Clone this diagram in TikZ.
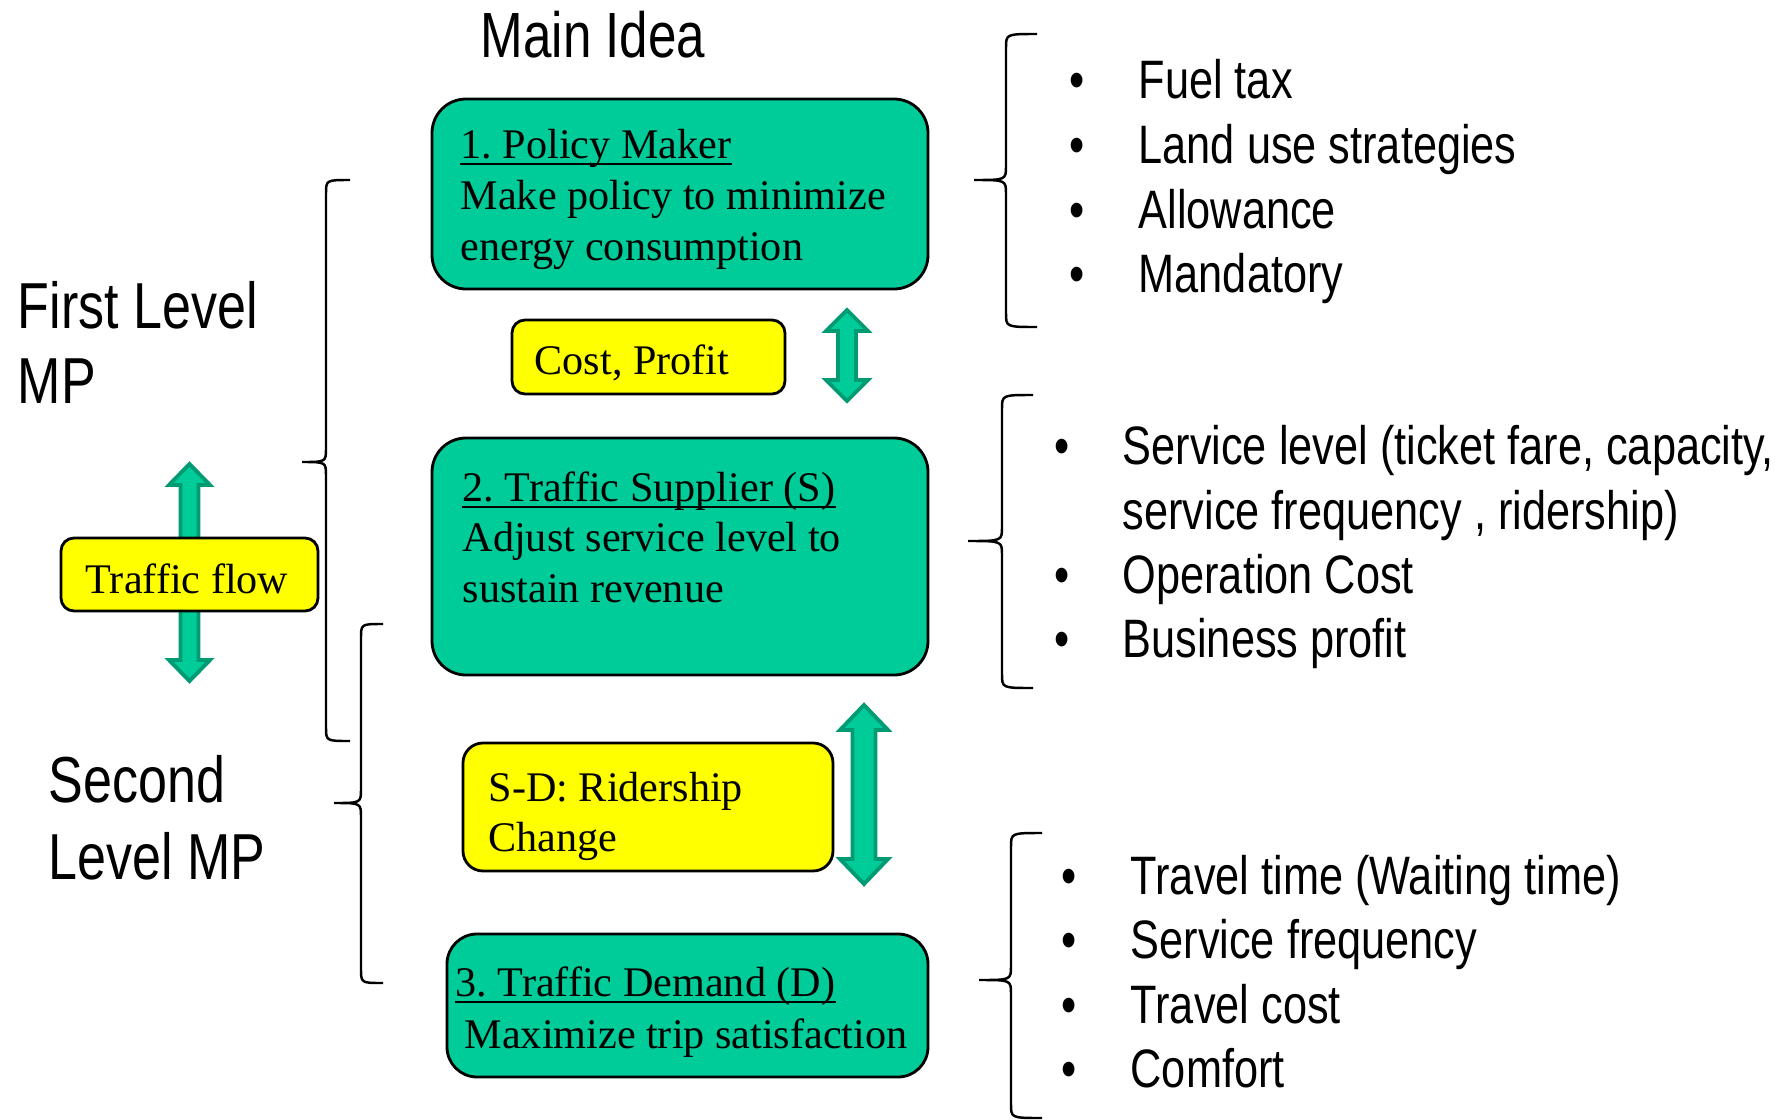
\documentclass[tikz,border=0pt]{standalone}
\usepackage{fontspec}
\setmainfont{Liberation Serif}
\newfontfamily\narrowsans[FakeStretch=0.8]{Liberation Sans}
\definecolor{boxgreen}{HTML}{00CC99}
\definecolor{arrowdark}{HTML}{009B72}
\definecolor{boxyellow}{HTML}{FFFF00}
\frenchspacing
\newcommand\dblarr[6]{% x, ytop, ybottom, half head, head length, half shaft
  \filldraw[blockarrow] (#1,#2) -- (#1+#4,#2+#5) -- (#1+#6,#2+#5) -- (#1+#6,#3-#5)
    -- (#1+#4,#3-#5) -- (#1,#3) -- (#1-#4,#3-#5) -- (#1-#6,#3-#5)
    -- (#1-#6,#2+#5) -- (#1-#4,#2+#5) -- cycle;}
\newcommand\mybrace[6]{% xv, xend, xtip, ytop, ymid, ybot  (brace opening right, tip left)
  \draw[bracest] (#2,#4) .. controls (#1,#4) and (#1,#4) .. (#1,#4+0.14) -- (#1,#5-0.14)
    .. controls (#1,#5) and (#1,#5) .. (#3,#5) .. controls (#1,#5) and (#1,#5) .. (#1,#5+0.14)
    -- (#1,#6-0.14) .. controls (#1,#6) and (#1,#6) .. (#2,#6);}
\begin{document}
\begin{tikzpicture}[x=1cm,y=-1cm,
  greenbox/.style={draw=black, line width=0.8pt, fill=boxgreen, rounded corners=0.34cm, inner sep=0pt, outer sep=0pt},
  yellowbox/.style={draw=black, line width=0.8pt, fill=boxyellow, rounded corners=0.13cm, inner sep=0pt, outer sep=0pt},
  txt/.style={anchor=base west, inner sep=0pt, font=\fontsize{12}{14}\selectfont},
  lst/.style={anchor=base west, inner sep=0pt, font=\narrowsans\fontsize{15.4}{18}\selectfont},
  bul/.style={anchor=base, inner sep=0pt, font=\narrowsans\fontsize{15.4}{18}\selectfont},
  hdr/.style={anchor=base west, inner sep=0pt, font=\narrowsans\fontsize{18.5}{21}\selectfont},
  ttl/.style={anchor=base west, inner sep=0pt, font=\narrowsans\fontsize{18.2}{21}\selectfont},
  uline/.style={draw=black, line width=0.55pt},
  blockarrow/.style={fill=boxgreen, draw=arrowdark, line width=1.1pt},
  bracest/.style={draw=black, line width=0.7pt}]
\useasboundingbox (0,0) rectangle (17.92,11.2);

% title
\node[ttl] (title) at (4.80,0.57) {Main Idea};

% left headers
\node[hdr] (first1) at (0.17,3.28) {First Level};
\node[hdr] (first2) at (0.17,4.03) {MP};
\node[hdr] (second1) at (0.48,8.02) {Second};
\node[hdr] (second2) at (0.48,8.79) {Level MP};

% main boxes
\node[greenbox, minimum width=4.96cm, minimum height=1.90cm] (pm) at (6.80,1.94) {};
\node[txt] (pm1) at (4.60,1.585) {1. Policy Maker};
\draw[uline] ([yshift=-1.6pt]pm1.base west) -- ([yshift=-1.6pt]pm1.base east);
\node[txt] (pm2) at (4.60,2.09) {Make policy to minimize};
\node[txt] (pm3) at (4.60,2.60) {energy consumption};

\node[greenbox, minimum width=4.96cm, minimum height=2.37cm] (ts) at (6.80,5.565) {};
\node[txt] (ts1) at (4.62,5.01) {2. Traffic Supplier (S)};
\draw[uline] ([yshift=-1.6pt]ts1.base west) -- ([yshift=-1.6pt]ts1.base east);
\node[txt] (ts2) at (4.62,5.51) {Adjust service level to};
\node[txt] (ts3) at (4.62,6.02) {sustain revenue};

\node[greenbox, minimum width=4.81cm, minimum height=1.43cm, rounded corners=0.30cm] (td) at (6.875,10.055) {};
\node[txt] (td1) at (4.55,9.96) {3. Traffic Demand (D)};
\draw[uline] ([yshift=-1.6pt]td1.base west) -- ([yshift=-1.6pt]td1.base east);
\node[txt] (td2) at (4.64,10.48) {Maximize trip satisfaction};

% double arrows
\dblarr{8.47}{3.10}{4.01}{0.21}{0.21}{0.09}
\dblarr{8.64}{7.05}{8.84}{0.24}{0.25}{0.115}
\dblarr{1.895}{4.64}{6.81}{0.205}{0.21}{0.09}

% yellow boxes
\node[yellowbox, minimum width=2.73cm, minimum height=0.74cm] (cp) at (6.485,3.57) {};
\node[txt] (cpt) at (5.34,3.745) {Cost, Profit};

\node[yellowbox, minimum width=3.70cm, minimum height=1.28cm, rounded corners=0.2cm] (sd) at (6.48,8.07) {};
\node[txt] (sd1) at (4.88,8.01) {S-D: Ridership};
\node[txt] (sd2) at (4.88,8.51) {Change};

\node[yellowbox, minimum width=2.57cm, minimum height=0.73cm] (tf) at (1.895,5.745) {};
\node[txt] (tft) at (0.85,5.93) {Traffic flow};

% braces
\mybrace{3.26}{3.50}{3.02}{1.80}{4.62}{7.41}
\mybrace{3.61}{3.83}{3.34}{6.24}{8.03}{9.83}
\mybrace{10.06}{10.37}{9.74}{0.34}{1.80}{3.27}
\mybrace{10.02}{10.33}{9.68}{3.95}{5.41}{6.88}
\mybrace{10.11}{10.42}{9.79}{8.33}{9.80}{11.18}

% list A
\node[bul] (ba1) at (10.77,0.99) {•};
\node[bul] (ba2) at (10.77,1.63) {•};
\node[bul] (ba3) at (10.77,2.28) {•};
\node[bul] (ba4) at (10.77,2.92) {•};
\node[lst] (la1) at (11.38,0.99) {Fuel tax};
\node[lst] (la2) at (11.38,1.63) {Land use strategies};
\node[lst] (la3) at (11.38,2.28) {Allowance};
\node[lst] (la4) at (11.38,2.92) {Mandatory};

% list B
\node[bul] (bb1) at (10.62,4.64) {•};
\node[bul] (bb3) at (10.62,5.93) {•};
\node[bul] (bb4) at (10.62,6.57) {•};
\node[lst] (lb1) at (11.22,4.64) {Service level (ticket fare, capacity,};
\node[lst] (lb2) at (11.22,5.29) {service frequency , ridership)};
\node[lst] (lb3) at (11.22,5.93) {Operation Cost};
\node[lst] (lb4) at (11.22,6.57) {Business profit};

% list C
\node[bul] (bc1) at (10.69,8.94) {•};
\node[bul] (bc2) at (10.69,9.58) {•};
\node[bul] (bc3) at (10.69,10.23) {•};
\node[bul] (bc4) at (10.69,10.87) {•};
\node[lst] (lc1) at (11.30,8.94) {Travel time (Waiting time)};
\node[lst] (lc2) at (11.30,9.58) {Service frequency};
\node[lst] (lc3) at (11.30,10.23) {Travel cost};
\node[lst] (lc4) at (11.30,10.87) {Comfort};
\end{tikzpicture}
\end{document}
